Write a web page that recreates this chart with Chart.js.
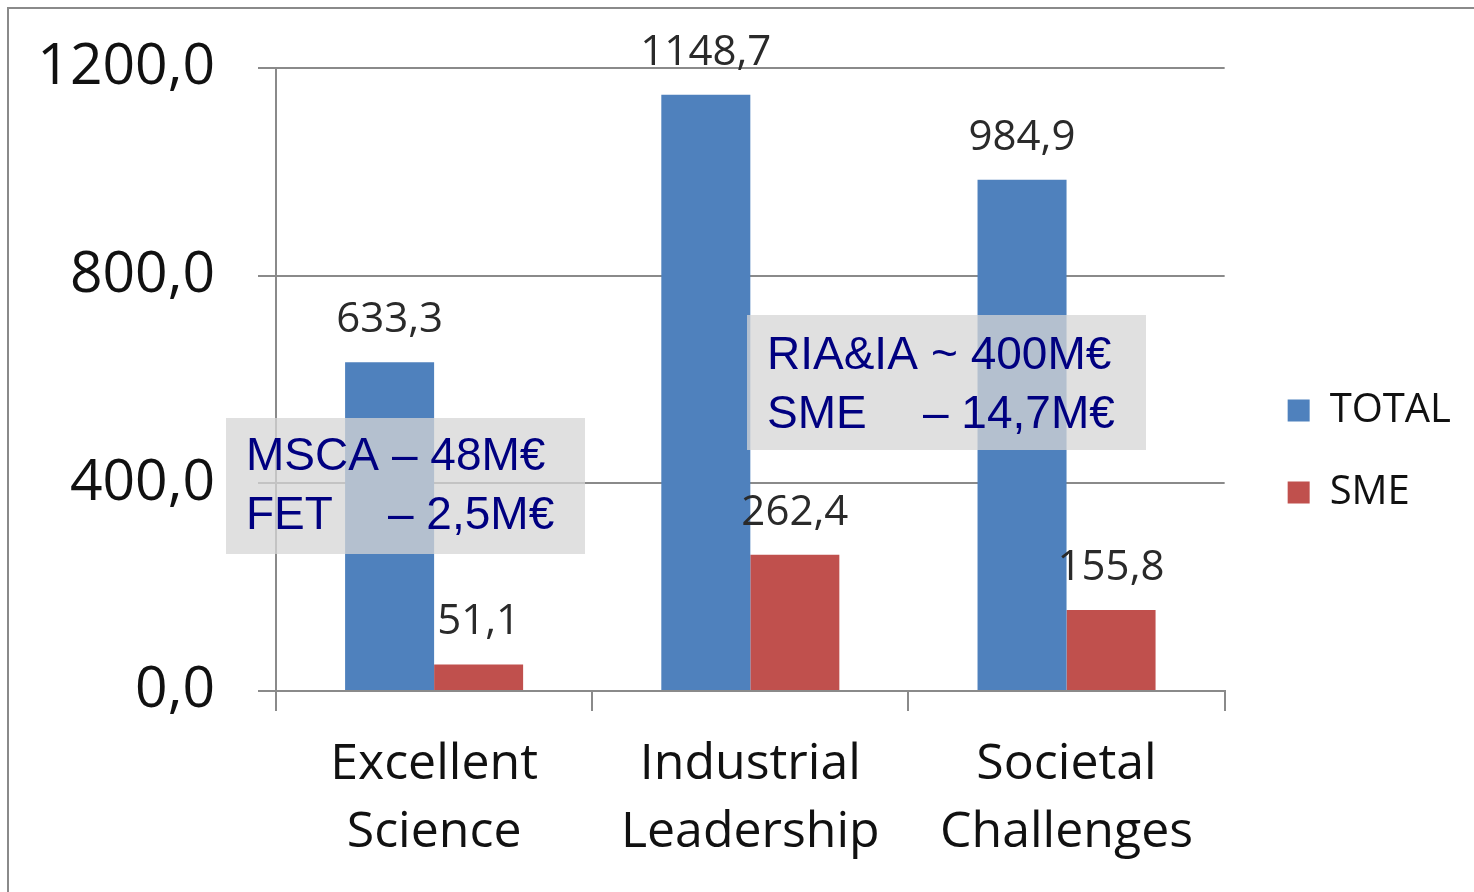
<!DOCTYPE html>
<html lang="en">
<head>
    <meta charset="UTF-8">
    <title>Budget chart</title>
    <style>
        body { margin: 0; background: #fff; }
        #wrap { position: relative; width: 1474px; height: 892px; overflow: hidden; }
        #frame { position: absolute; left: 7px; top: 7px; width: 1600px; height: 1000px;
                 border-top: 2px solid #8a8a8a; border-left: 2px solid #8a8a8a; }
        canvas { position: absolute; left: 0; top: 0; }
        .nota { position: absolute; background: rgba(214, 214, 214, 0.75); color: #000080;
                font-family: "Liberation Sans", Arial, sans-serif; font-size: 46px; line-height: 59px;
                white-space: pre; box-sizing: border-box; padding-left: 20px; }
        .k { display: inline-block; }
    </style>
</head>
<body>
    <div id="wrap">
        <div id="frame"></div>
        <canvas id="myChart" width="1474" height="892"></canvas>
        <div class="nota" style="left:226px; top:418px; width:359px; height:136px; padding-top:7px;"><span class="k" style="width:146px">MSCA</span>– 48M€
<span class="k" style="width:142px">FET</span>– 2,5M€</div>
        <div class="nota" style="left:747px; top:315px; width:399px; height:135px; padding-top:9px;"><span class="k" style="width:164px">RIA&amp;IA</span>~ 400M€
<span class="k" style="width:156px">SME</span>– 14,7M€</div>
    </div>

<script src="https://cdn.jsdelivr.net/npm/chart.js"></script>
<script>
    var categorias = [['Excellent', 'Science'], ['Industrial', 'Leadership'], ['Societal', 'Challenges']];
    var dadosTotal = [633.3, 1148.7, 984.9];
    var dadosSme = [51.1, 262.4, 155.8];
    var ticksY = [0, 400, 800, 1200];

    function virgula(v) {
        return Number(v).toFixed(1).replace('.', ',');
    }

    // rotulos em cima das barras
    const rotulos = {
        id: 'rotulos',
        afterDatasetsDraw(chart) {
            const ctx = chart.ctx;
            ctx.save();
            ctx.font = '42px "Open Sans"';
            ctx.fillStyle = '#2a2a2a';
            ctx.textAlign = 'center';
            ctx.textBaseline = 'alphabetic';
            chart.data.datasets.forEach(function (ds, i) {
                chart.getDatasetMeta(i).data.forEach(function (bar, j) {
                    ctx.fillText(virgula(ds.data[j]), bar.x, bar.y - 30);
                });
            });
            ctx.restore();
        }
    };

    // empurra a legenda um pouco
    const moveLegenda = {
        id: 'moveLegenda',
        afterLayout(chart) {
            const lg = chart.legend;
            lg.left += 21; lg.right += 21;
            lg.top -= 26; lg.bottom -= 26;
        }
    };

    Chart.defaults.font.family = '"Open Sans"';
    Chart.defaults.color = '#111';

    const ctx = document.getElementById('myChart');

    new Chart(ctx, {
        type: 'bar',
        data: {
            labels: categorias,
            datasets: [{
                label: 'TOTAL',
                data: dadosTotal,
                backgroundColor: '#4f81bd'
            }, {
                label: 'SME',
                data: dadosSme,
                backgroundColor: '#c0504d'
            }]
        },
        options: {
            responsive: false,
            animation: false,
            layout: { padding: { left: 0, top: 68, right: 34, bottom: 5 } },
            datasets: { bar: { categoryPercentage: 0.563, barPercentage: 1 } },
            plugins: {
                legend: {
                    position: 'right',
                    labels: {
                        boxWidth: 22,
                        boxHeight: 22,
                        padding: 42,
                        color: '#111',
                        font: { size: 40 }
                    }
                },
                tooltip: { enabled: false }
            },
            scales: {
                x: {
                    grid: { offset: true, drawOnChartArea: false, drawTicks: true, tickLength: 20, color: '#8a8a8a', lineWidth: 2 },
                    border: { display: true, color: '#8a8a8a', width: 2 },
                    ticks: { padding: 20, color: '#111', font: { size: 50, lineHeight: 1.36 } }
                },
                y: {
                    min: 0,
                    max: 1200,
                    afterFit: function (scale) {
                        scale.width = 276;
                        scale.paddingTop = 30;
                        scale.paddingBottom = 30;
                    },
                    afterBuildTicks: function (scale) {
                        scale.ticks = ticksY.map(function (v) { return { value: v }; });
                    },
                    grid: { color: '#8a8a8a', lineWidth: 2, tickLength: 18 },
                    border: { display: true, color: '#8a8a8a', width: 2 },
                    ticks: {
                        padding: 43,
                        color: '#111',
                        font: { size: 57 },
                        callback: function (v) { return virgula(v); }
                    }
                }
            }
        },
        plugins: [rotulos, moveLegenda]
    });
</script>
</body>
</html>
